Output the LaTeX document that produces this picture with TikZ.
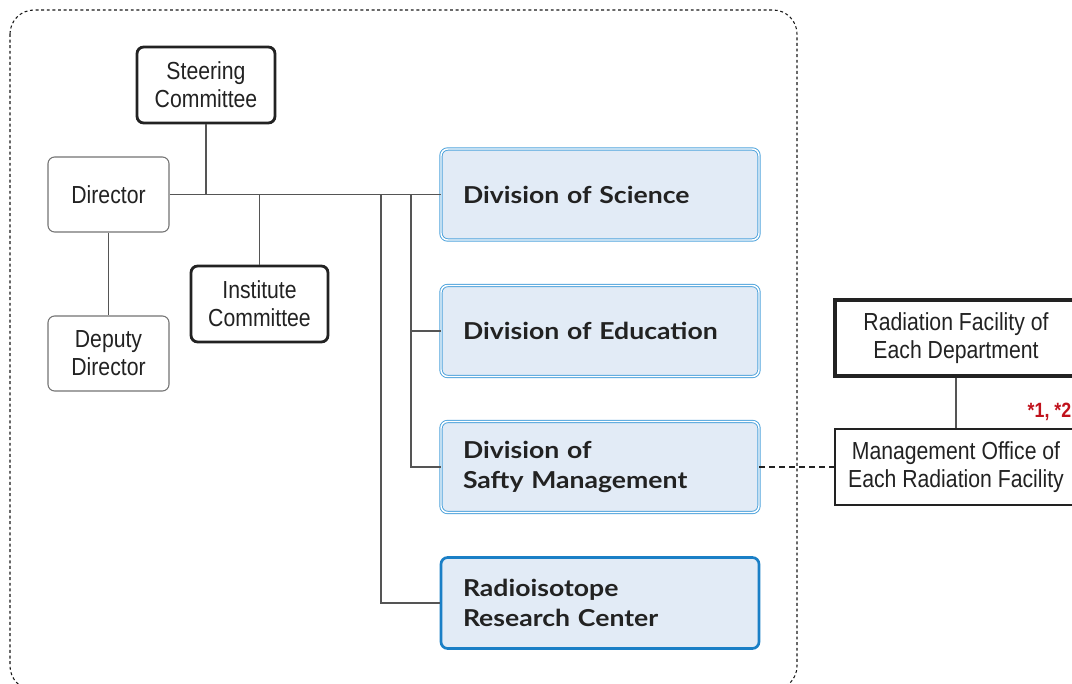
\documentclass[tikz,border=0pt]{standalone}
\usepackage{fontspec}
\setmainfont{Liberation Sans}
\newfontfamily\condfont{Liberation Sans}[FakeStretch=0.86]
\newfontfamily\divfont{Lato}[FakeStretch=1.14]
\definecolor{ink}{HTML}{222222}
\definecolor{linegray}{HTML}{555555}
\definecolor{divfill}{HTML}{E2EBF6}
\definecolor{divline}{HTML}{4EA3DC}
\definecolor{riline}{HTML}{1A7FC6}
\definecolor{notered}{HTML}{C0121C}
\tikzset{
  plainbox/.style={draw=black!55, line width=0.8pt, rounded corners=5pt, fill=white,
    font=\condfont\fontsize{18.5}{21}\selectfont, text=ink, align=center,
    minimum width=90.75pt, minimum height=56.25pt},
  boldbox/.style={draw=ink, line width=2.1pt, rounded corners=5pt, fill=white,
    font=\condfont\fontsize{18.5}{21}\selectfont, text=ink, align=center,
    minimum width=103.5pt, minimum height=57pt},
  facbox/.style={draw=ink, line width=0.8pt, fill=white,
    font=\condfont\fontsize{18.5}{21}\selectfont, text=ink, align=center,
    minimum width=181.5pt, minimum height=57pt},
  thickfacbox/.style={facbox, line width=2.3pt},
  divbox/.style={draw=divline, line width=0.7pt, double=white, double distance=1.1pt,
    rounded corners=5pt, fill=divfill,
    font=\divfont\bfseries\fontsize{17.5}{22}\selectfont, text=ink, align=left,
    text width=205.5pt, inner xsep=16.5pt, minimum height=68.25pt},
  ribox/.style={divbox, draw=riline, line width=2pt, double=none},
  link/.style={draw=linegray, line width=0.8pt},
}
\begin{document}
\begin{tikzpicture}[x=0.75pt, y=-0.75pt]
\useasboundingbox (0,0) rectangle (1072,684);

% outer frame of the institute
\draw[black!90, line width=0.8pt, dash pattern=on 2.2pt off 2pt, rounded corners=18pt]
  (10,10) rectangle (797,690);

% management nodes
\node[boldbox]  (steer) at (206,85)    {Steering\\Committee};
\node[plainbox] (dir)   at (108.5,194.5) {Director};
\node[plainbox] (dep)   at (108.5,353.5) {Deputy\\Director};
\node[boldbox, minimum width=102.75pt] (inst) at (259.5,304) {Institute\\Committee};

% divisions
\node[divbox] (sci) at (600,194.5) {Division of Science};
\node[divbox] (edu) at (600,331)   {Division of Education};
\node[divbox] (saf) at (600,467)   {Division of\\Safty Management};
\node[ribox]  (ri)  at (600,603)   {Radioisotope\\Research Center};

% facilities outside the institute
\node[thickfacbox] (rad) at (956,338) {Radiation Facility of\\Each Department};
\node[facbox] (mgmt) at (956,467) {Management Office of\\Each Radiation Facility};
\node[anchor=west, text=notered, font=\condfont\bfseries\fontsize{15.5}{18}\selectfont]
  (note) at (1023,412) {*1, *2};

% junction points on the main line
\coordinate (jS) at (206,194.5);
\coordinate (jI) at (259.5,194.5);
\coordinate (jR) at (381,194.5);
\coordinate (jD) at (411,194.5);

% connectors
\draw[link] (dir.east) -- (sci.west);
\draw[link] (steer.south) -- (jS);
\draw[link] (jI) -- (inst.north);
\draw[link] (dir.south) -- (dep.north);
\draw[link] (jR) |- (ri.west);
\draw[link] (jD) |- (saf.west);
\draw[link] (jD) |- (edu.west);
\draw[link] (rad.south) -- (mgmt.north);
\draw[ink, line width=1.2pt, dash pattern=on 4.5pt off 3pt] (saf.east) -- (mgmt.west);
\end{tikzpicture}
\end{document}
